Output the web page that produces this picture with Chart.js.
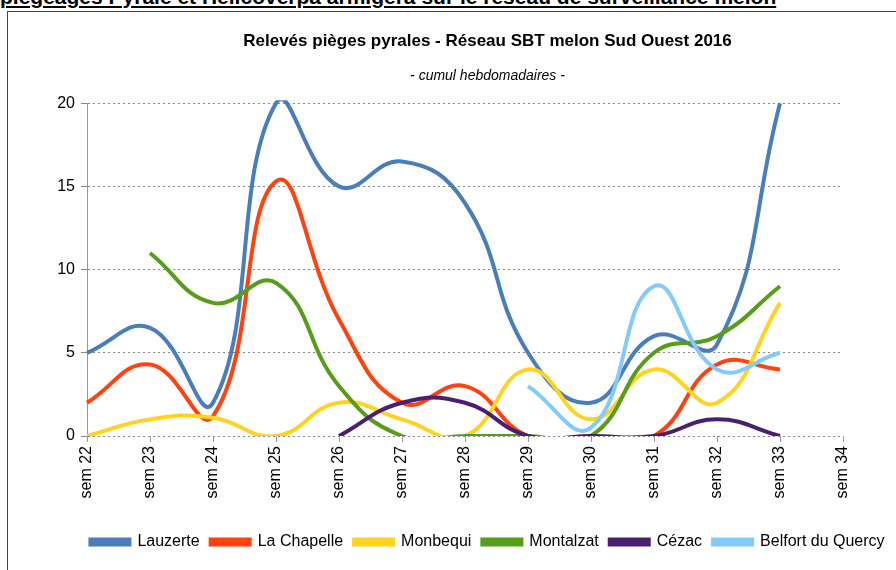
<!DOCTYPE html>
<html>
<head>
<meta charset="utf-8">
<script src="https://cdn.jsdelivr.net/npm/chart.js@4.4.1/dist/chart.umd.min.js"></script>
<style>
    body { margin: 0; width: 896px; height: 570px; overflow: hidden; background: #fff; position: relative; font-family: "Liberation Sans", Arial, sans-serif; }
    #heading { position: absolute; left: 0; top: -15px; font-size: 21px; font-weight: bold; text-decoration: underline; white-space: nowrap; color: #000; }
    #frame { position: absolute; left: 7px; top: 11px; width: 966px; height: 570px; border-left: 1px solid #444; border-top: 1px solid #444; }
</style>
</head>
<body>
<div id="heading">piégeages Pyrale et Helicoverpa armigera sur le réseau de surveillance melon</div>
<div id="frame"><canvas id="tsChart" width="966" height="558"></canvas></div>
<script>
// semaines (axe X)
const semaines = ['sem 22', 'sem 23', 'sem 24', 'sem 25', 'sem 26', 'sem 27', 'sem 28',
    'sem 29', 'sem 30', 'sem 31', 'sem 32', 'sem 33', 'sem 34'];

// releves par piege
const lauzerte = [5, 6.5, 2, 20, 15, 16.5, 14, 5, 2, 6, 5.5, 20, null];
const laChapelle = [2, 4.3, 1.2, 15.3, 7, 2, 3, 0, 0, 0, 4.3, 4, null];
const monbequi = [0, 1, 1.1, 0, 2, 1, 0, 4, 1, 4, 2, 8, null];
const montalzat = [null, 11, 8, 9.2, 3, 0, 0, 0, 0, 5, 6, 9, null];
const cezac = [null, null, null, null, 0, 2, 2, 0, 0, 0, 1, 0, null];
const belfort = [null, null, null, null, null, null, null, 3, 0.5, 9, 4, 5, null];

const yTicks = [0, 5, 10, 15, 20];

function serie(label, data, color, i) {
    return {
        label: label,
        data: data,
        borderColor: color,
        backgroundColor: color,
        borderWidth: 4,
        borderCapStyle: 'butt',
        pointRadius: 0,
        tension: 0.45,
        fill: false,
        order: -i,
        clip: {left: 10, top: 3, right: 10, bottom: 0}
    };
}

const data = {
    labels: semaines,
    datasets: [
        serie('Lauzerte', lauzerte, '#4a7ebb', 0),
        serie('La Chapelle', laChapelle, '#ff420e', 1),
        serie('Monbequi', monbequi, '#ffd320', 2),
        serie('Montalzat', montalzat, '#579d1c', 3),
        serie('Cézac', cezac, '#4b1f6f', 4),
        serie('Belfort du Quercy', belfort, '#83caff', 5)
    ]
};

const config = {
    type: 'line',
    data: data,
    options: {
        responsive: false,
        animation: false,
        events: [],
        elements: {line: {capBezierPoints: false}},
        layout: {padding: {left: 0, right: 7, top: 0, bottom: 10}},
        plugins: {
            title: {
                display: true,
                text: 'Relevés pièges pyrales - Réseau SBT melon Sud Ouest 2016',
                color: '#000',
                font: {family: 'Liberation Sans', size: 17, weight: 'bold'},
                padding: {top: 19, bottom: 16}
            },
            subtitle: {
                display: true,
                text: '- cumul hebdomadaires -',
                color: '#000',
                font: {family: 'Liberation Sans', size: 14, style: 'italic'},
                padding: {top: 0, bottom: 19}
            },
            legend: {
                position: 'bottom',
                labels: {
                    color: '#000',
                    font: {family: 'Liberation Sans', size: 16},
                    boxWidth: 39,
                    boxHeight: 5,
                    padding: 11,
                    sort: (a, b) => a.datasetIndex - b.datasetIndex
                }
            },
            tooltip: {enabled: false}
        },
        scales: {
            x: {
                grid: {display: true, drawOnChartArea: false, drawTicks: true, tickLength: 6, color: '#999'},
                border: {display: false},
                ticks: {
                    color: '#000',
                    font: {family: 'Liberation Sans', size: 16},
                    maxRotation: 90,
                    minRotation: 90,
                    autoSkip: false,
                    padding: 4
                },
                afterFit: (s) => { s.height = 87; }
            },
            y: {
                min: 0,
                max: 20,
                afterBuildTicks: (s) => { s.ticks = yTicks.map(v => ({value: v})); },
                grid: {color: '#888', tickLength: 6},
                border: {display: true, color: '#999', width: 1, dash: [2, 3]},
                ticks: {color: '#000', font: {family: 'Liberation Sans', size: 16}, padding: 6},
                afterFit: (s) => { s.width = 79; }
            },
            yRight: {
                position: 'right',
                min: 0,
                max: 20,
                grid: {display: false},
                border: {display: false},
                ticks: {display: false},
                afterFit: (s) => { s.width = 124; }
            }
        }
    }
};

let ctx = document.getElementById('tsChart').getContext('2d');
new Chart(ctx, config);
</script>
</body>
</html>
